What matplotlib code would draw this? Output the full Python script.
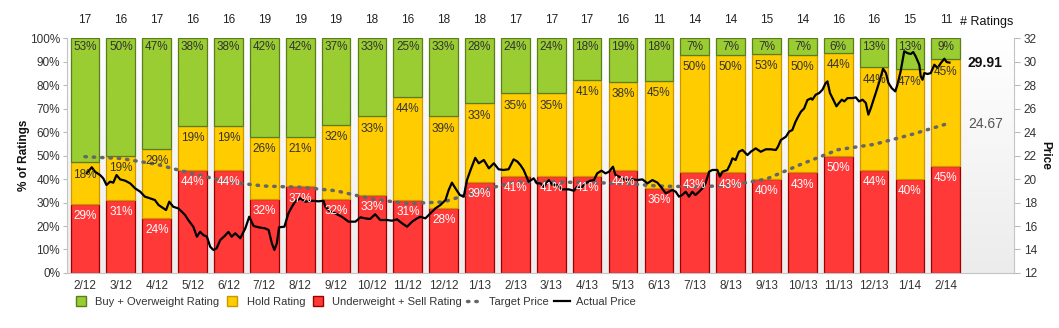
import numpy as np
import matplotlib as mpl
mpl.use('Agg')
import matplotlib.pyplot as plt
import matplotlib.transforms as mtransforms
from matplotlib.colors import LinearSegmentedColormap
from matplotlib.lines import Line2D

plt.rcParams['font.family'] = ['Liberation Sans', 'DejaVu Sans']
plt.rcParams['font.size'] = 8.5

months = ["2/12", "3/12", "4/12", "5/12", "6/12", "7/12", "8/12", "9/12", "10/12",
          "11/12", "12/12", "1/13", "2/13", "3/13", "4/13", "5/13", "6/13", "7/13",
          "8/13", "9/13", "10/13", "11/13", "12/13", "1/14", "2/14"]

# number of analyst ratings per bucket, each month
buy_n   = [9, 8, 8, 6, 6, 8, 8, 7, 6, 4, 6, 5, 4, 4, 3, 3, 2, 1, 1, 1, 1, 1, 2, 2, 1]
hold_n  = [3, 3, 5, 3, 3, 5, 4, 6, 6, 7, 7, 6, 6, 6, 7, 6, 5, 7, 7, 8, 7, 7, 7, 7, 5]
under_n = [5, 5, 4, 7, 7, 6, 7, 6, 6, 5, 5, 7, 7, 7, 7, 7, 4, 6, 6, 6, 6, 8, 7, 6, 5]

# consensus target price, one value per month
target_price = [21.9, 21.75, 21.25, 20.45, 19.75, 19.4, 19.3, 19.0, 18.3, 17.9, 18.05,
                19.0, 19.75, 19.75, 19.7, 19.63, 19.4, 19.34, 19.45, 20.0, 21.3, 22.5,
                22.95, 23.75, 24.67]

# actual share price, traced (x in months since 2/12)
price_x = [0.05, 0.19, 0.28, 0.42, 0.51, 0.60, 0.70, 0.79, 0.88, 0.98, 1.12, 1.26, 1.40,
           1.54, 1.67, 1.81, 1.95, 2.05, 2.19, 2.26, 2.35, 2.46, 2.60, 2.70, 2.79, 2.88,
           3.02, 3.12, 3.21, 3.30, 3.40, 3.49, 3.58, 3.67, 3.77, 3.91, 4.00, 4.09, 4.19,
           4.33, 4.47, 4.58, 4.70, 4.84, 5.02, 5.12, 5.21, 5.28, 5.35, 5.41, 5.56, 5.67,
           5.77, 5.86, 6.00, 6.14, 6.33, 6.51, 6.65, 6.70, 6.84, 6.98, 7.16, 7.35, 7.54,
           7.68, 7.81, 7.95, 8.09, 8.23, 8.42, 8.56, 8.70, 8.84, 8.98, 9.12, 9.26, 9.35,
           9.49, 9.63, 9.77, 9.91, 10.05, 10.14, 10.23, 10.33, 10.45, 10.56, 10.65, 10.75,
           10.88, 10.98, 11.12, 11.26, 11.40, 11.53, 11.67, 11.81, 11.95, 12.05, 12.14,
           12.23, 12.37, 12.51, 12.60, 12.70, 12.79, 12.93, 13.03, 13.16, 13.30, 13.49,
           13.63, 13.72, 13.82, 13.95, 14.09, 14.19, 14.28, 14.40, 14.51, 14.61, 14.72,
           14.79, 14.89, 15.07, 15.26, 15.40, 15.54, 15.68, 15.82, 15.96, 16.09, 16.19,
           16.28, 16.37, 16.47, 16.56, 16.65, 16.75, 16.84, 16.93, 17.02, 17.12, 17.21,
           17.30, 17.40, 17.49, 17.63, 17.70, 17.77, 17.91, 18.00, 18.05, 18.14, 18.23,
           18.33, 18.47, 18.56, 18.70, 18.84, 18.98, 19.12, 19.26, 19.32, 19.40, 19.54,
           19.63, 19.72, 19.81, 19.88, 19.96, 20.05, 20.14, 20.24, 20.28, 20.37, 20.47,
           20.56, 20.65, 20.70, 20.77, 20.84, 20.95, 21.02, 21.10, 21.17, 21.26, 21.40,
           21.49, 21.58, 21.68, 21.77, 21.84, 21.91, 22.00, 22.09, 22.19, 22.25, 22.33,
           22.40, 22.49, 22.59, 22.65, 22.74, 22.79, 22.84, 22.93, 23.02, 23.09, 23.16,
           23.26, 23.30, 23.35, 23.40, 23.49, 23.58, 23.68, 23.77, 23.86, 23.96, 24.02,
           24.10]
price_y = [20.5, 21.0, 20.62, 20.34, 20.06, 19.49, 19.77, 19.69, 20.34, 19.97, 19.86, 19.63,
           19.2, 18.92, 18.5, 18.36, 18.21, 17.79, 17.5, 17.36, 18.07, 17.64, 17.5, 17.22,
           16.94, 16.51, 15.94, 15.09, 15.51, 15.23, 15.09, 14.24, 13.96, 14.1, 14.8, 15.2,
           15.5, 15.09, 15.38, 14.96, 15.8, 16.79, 16.0, 15.89, 15.8, 15.66, 14.53, 13.96,
           14.53, 15.89, 15.94, 17.07, 17.64, 18.07, 18.36, 18.07, 18.15, 18.1, 18.15, 17.64,
           17.22, 17.07, 16.79, 16.37, 16.37, 16.74, 16.65, 16.6, 17.0, 16.51, 16.51, 16.45,
           16.57, 16.23, 15.94, 16.37, 16.65, 16.79, 16.65, 17.07, 17.5, 17.79, 18.21, 19.06,
           19.69, 19.2, 18.64, 18.5, 19.91, 20.77, 21.8, 21.34, 21.62, 20.91, 21.34, 20.83,
           20.77, 20.83, 21.67, 21.5, 21.19, 20.77, 19.77, 20.06, 19.63, 19.63, 19.34, 19.91,
           19.49, 19.49, 19.12, 19.12, 19.0, 19.34, 19.2, 19.63, 19.86, 19.91, 20.48, 20.71,
           20.48, 20.62, 21.05, 20.34, 20.2, 19.91, 19.97, 19.91, 19.97, 19.63, 19.91, 19.69,
           19.2, 18.78, 18.92, 19.06, 18.92, 18.5, 18.64, 18.92, 18.5, 18.92, 18.64, 18.92,
           19.2, 19.63, 20.62, 20.77, 20.77, 20.2, 20.62, 20.77, 21.34, 21.76, 21.62, 22.32,
           22.47, 22.04, 22.32, 22.61, 22.32, 22.53, 22.53, 22.47, 22.75, 23.32, 23.6, 24.03,
           24.17, 24.88, 25.3, 25.73, 26.01, 26.72, 26.87, 26.75, 27.17, 27.32, 27.6, 28.17,
           28.31, 27.32, 26.89, 26.19, 26.47, 26.75, 26.61, 26.89, 26.89, 26.95, 26.61, 26.75,
           26.47, 25.48, 26.04, 26.89, 27.74, 28.74, 29.39, 29.02, 28.17, 27.74, 27.46, 28.03,
           29.17, 30.02, 30.87, 30.72, 30.64, 30.81, 30.44, 29.73, 28.74, 28.45, 29.02, 28.94,
           29.02, 29.73, 29.45, 29.87, 30.24, 29.96, 29.91]

last_price = 29.91
last_target = 24.67

GREEN, GREEN_EDGE = '#9acd32', '#5b7d1e'
YELLOW, YELLOW_EDGE = '#ffcc00', '#c99700'
RED, RED_EDGE = '#ff3838', '#9b0000'
TXT = '#333333'
DASH = (0, (0.4, 2.0))


def plot_chart(save_path):
    total = np.array(buy_n) + np.array(hold_n) + np.array(under_n)
    buy_pct = np.array(buy_n) / total * 100
    hold_pct = np.array(hold_n) / total * 100
    under_pct = np.array(under_n) / total * 100
    x = np.arange(len(months))

    fig = plt.figure(figsize=(10.59, 3.28), dpi=100)
    ax = fig.add_axes([0.0633, 0.1677, 0.8942, 0.7163])
    xlim = (-0.5, 25.9)

    # light vertical gradient behind the bars
    grad = LinearSegmentedColormap.from_list('bg', ['#ececec', '#ffffff'])
    ax.imshow(np.linspace(0, 1, 100).reshape(-1, 1), cmap=grad, aspect='auto',
              extent=(xlim[0], xlim[1], 0, 100), origin='lower', zorder=0)

    w = 0.8
    ax.bar(x, under_pct, width=w, color=RED, edgecolor=RED_EDGE, lw=0.9, zorder=2)
    ax.bar(x, hold_pct, width=w, bottom=under_pct, color=YELLOW, edgecolor=YELLOW_EDGE,
           lw=0.9, zorder=2)
    ax.bar(x, buy_pct, width=w, bottom=under_pct + hold_pct, color=GREEN,
           edgecolor=GREEN_EDGE, lw=0.9, zorder=2)

    ax.set_xlim(*xlim)
    ax.set_ylim(0, 100)
    ax.set_yticks(range(0, 101, 10))
    ax.set_yticklabels(["{}%".format(v) for v in range(0, 101, 10)])
    ax.set_xticks(x)
    ax.set_xticklabels(months)
    ax.tick_params(axis='x', length=0, pad=5, colors=TXT)
    ax.tick_params(axis='y', length=3, color='#bbbbbb', labelcolor=TXT, pad=2)
    for s in ['top', 'right']:
        ax.spines[s].set_visible(False)
    for s in ['left', 'bottom']:
        ax.spines[s].set_color('#c4c4c4')
    ax.set_ylabel("% of Ratings", fontweight='bold', color='#111111', labelpad=0)

    ax2 = ax.twinx()
    ax2.set_ylim(12, 32)
    ax2.set_yticks(range(12, 33, 2))
    ax2.tick_params(axis='y', length=4, color='#bbbbbb', labelcolor=TXT, pad=3)
    for s in ['top', 'left', 'bottom']:
        ax2.spines[s].set_visible(False)
    ax2.spines['right'].set_color('#c4c4c4')
    ax2.set_ylabel("Price", rotation=270, fontweight='bold', color='#111111', labelpad=10)

    ax2.plot(x, target_price, color='#666666', lw=2.5, ls=DASH,
             dash_capstyle='round', zorder=3)
    ax2.plot(price_x, price_y, color='black', lw=1.6, zorder=4)

    # percentage labels, drawn on top of the lines
    for i in x:
        ax2.text(i, under_pct[i] - 5.2, "{}%".format(int(under_pct[i] + 0.5)),
                 transform=ax.transData, ha='center', va='center', color='white', zorder=5)
        ax2.text(i, under_pct[i] + hold_pct[i] - 5.2, "{}%".format(int(hold_pct[i] + 0.5)),
                 transform=ax.transData, ha='center', va='center', color=TXT, zorder=5)
        ax2.text(i, 96, "{}%".format(int(buy_pct[i] + 0.5)),
                 transform=ax.transData, ha='center', va='center', color=TXT, zorder=5)

    trans = mtransforms.blended_transform_factory(ax.transData, ax.transAxes)
    for i, n in zip(x, total):
        ax.text(i, 1.075, str(n), transform=trans, ha='center', va='center', color='#222222')
    ax.text(25.15, 1.068, "# Ratings", transform=trans, ha='center', va='center',
            color='#111111', fontsize=9)

    ax2.text(25.1, last_price, "{:.2f}".format(last_price), ha='center', va='center',
             fontsize=10, fontweight='bold', color='#111111')
    ax2.text(25.1, last_target, "{:.2f}".format(last_target), ha='center', va='center',
             fontsize=10, color='#555555')

    handles = [
        Line2D([], [], ls='none', marker='s', markersize=6.5, markerfacecolor=GREEN,
               markeredgecolor=GREEN_EDGE),
        Line2D([], [], ls='none', marker='s', markersize=6.5, markerfacecolor=YELLOW,
               markeredgecolor=YELLOW_EDGE),
        Line2D([], [], ls='none', marker='s', markersize=6.5, markerfacecolor=RED,
               markeredgecolor=RED_EDGE),
        Line2D([], [], color='#666666', lw=2.5, ls=DASH, dash_capstyle='round'),
        Line2D([], [], color='black', lw=1.6),
    ]
    labels = ["Buy + Overweight Rating", "Hold Rating", "Underweight + Sell Rating",
              "Target Price", "Actual Price"]
    fig.legend(handles, labels, loc='center left', bbox_to_anchor=(73 / 1059, 1 - 302 / 328),
               ncol=5, frameon=False, handlelength=1.4, handletextpad=0.6,
               columnspacing=0.45, labelcolor=TXT, borderaxespad=0, borderpad=0,
               fontsize=8)

    plt.savefig(save_path, dpi=100)
    plt.close(fig)


if __name__ == "__main__":
    plot_chart("out.png")
